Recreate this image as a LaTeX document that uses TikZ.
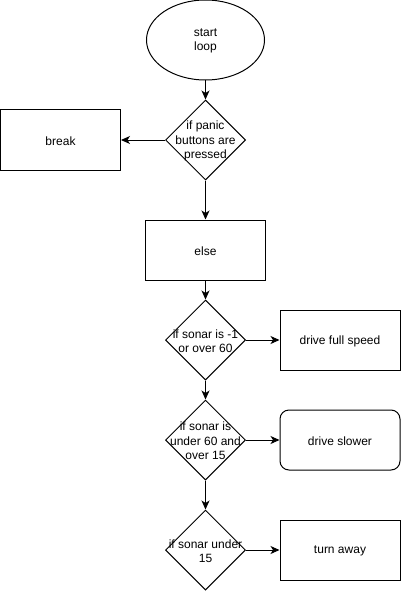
\documentclass[tikz,border=0pt]{standalone}
\usepackage{fontspec}
\setmainfont{Liberation Sans}
\usetikzlibrary{shapes.geometric,arrows.meta}
\begin{document}
\begin{tikzpicture}[x=1pt, y=-1pt, line width=1pt,
  >={Stealth[length=9pt,width=8pt,inset=2.5pt]},
  font=\fontsize{12}{14.5}\selectfont,
  box/.style={draw, minimum width=120pt, minimum height=60pt, inner sep=0pt, align=center},
  rbox/.style={box, rounded corners=9pt},
  decision/.style={draw, diamond, minimum width=80pt, minimum height=80pt, inner sep=0pt},
  txt/.style={align=center, inner sep=0pt, yshift=-1pt}]%sonar loop
\useasboundingbox (0,0) rectangle (401,591);

\node [draw, ellipse, minimum width=118pt, minimum height=80pt, label={[txt]center:start\\loop}] (start) at (205.5,40) {};
\node [decision, label={[txt]center:if panic\\buttons are\\pressed}] (panic) at (205.5,140) {};
\node [box, label={[txt]center:break}] (break) at (60.5,140) {};
\node [box, label={[txt]center:else}] (else) at (205.5,250) {};

\node [decision, label={[txt]center:if sonar is -1\\or over 60}] (far) at (205.5,340) {};
\node [decision, label={[txt]center:if sonar is\\under 60 and\\over 15}] (mid) at (205.5,440) {};
\node [decision, label={[txt]center:if sonar under\\15}] (near) at (205.5,550) {};

\node [box, label={[txt]center:drive full speed}] (full) at (340,340) {};
\node [rbox, label={[txt]center:drive slower}] (slow) at (340,440) {};
\node [box, label={[txt]center:turn away}] (turn) at (340,550) {};

\draw [->] (start) -- (panic);
\draw [->] (panic) -- (break);
\draw [->] (panic) -- (else);
\draw [->] (else) -- (far);
\draw [->] (far) -- (mid);
\draw [->] (mid) -- (near);
\foreach \a/\b in {far/full, mid/slow, near/turn} {
\draw [->] (\a) -- (\b);}
\end{tikzpicture}
\end{document}
